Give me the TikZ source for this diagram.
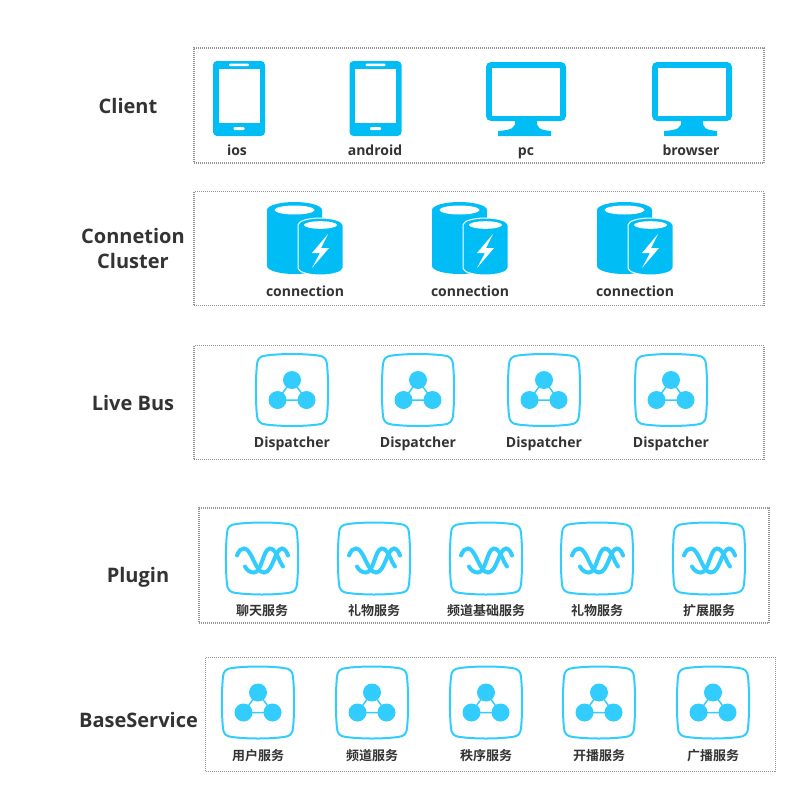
\documentclass[tikz,border=0pt]{standalone}
\usepackage{fontspec}
\setmainfont{Open Sans}
\newfontfamily\cjkfont{Noto Sans CJK SC}[BoldFont={Noto Sans CJK SC Bold}]
\usepackage{xcolor}
\usepackage{tikz}
\definecolor{devblue}{HTML}{00BEF5}
\definecolor{hubblue}{HTML}{33CCFF}
\definecolor{dotgray}{HTML}{959595}
\definecolor{inkgray}{HTML}{333333}

\tikzset{
	phone/.pic = {
		\fill[devblue,rounded corners=4] (-26,-37.5) rectangle (26,37.5);
		\fill[white] (-20.5,-29.5) rectangle (20.5,24.5);
		\fill[white,rounded corners=1] (-10,-35) rectangle (10,-32.5);
		\fill[white,rounded corners=1] (-5.5,28.5) rectangle (5.5,31.5);
	},
	monitor/.pic = {
		\fill[devblue,rounded corners=5] (-40,-37) rectangle (40,22);
		\fill[white] (-34,-31) rectangle (34,17);
		\fill[devblue] (-11,21) .. controls (-10,29) and (-14,31) .. (-28,32) -- (-28,37) -- (25,37) -- (25,32)
			.. controls (14,31) and (10,29) .. (11,21) -- cycle;
	},
	dbpair/.pic = {
		\fill[devblue] (-38,-28) arc[start angle=180,end angle=360,x radius=27.5,y radius=8]
			-- (17,28) arc[start angle=0,end angle=180,x radius=27.5,y radius=8] -- cycle;
		\fill[white] (-10.5,-28) ellipse[x radius=20,y radius=4.5];
		\filldraw[fill=devblue,draw=white,line width=1] (-7,-13) arc[start angle=180,end angle=360,x radius=22.5,y radius=7]
			-- (38,30) arc[start angle=0,end angle=180,x radius=22.5,y radius=7] -- cycle;
		\fill[white] (15.5,-13) ellipse[x radius=16.5,y radius=3.8];
		\fill[white] (23,-4) -- (7,15) -- (15,15) -- (7,30) -- (24,10) -- (16,10) -- cycle;
	},
	squircle/.pic = {
		\draw[hubblue,line width=2] (-26,-34.5) .. controls (-10,-36.5) and (10,-36.5) .. (26,-34.5)
			.. controls (32,-34) and (34.5,-31) .. (35,-26)
			.. controls (36.5,-10) and (36.5,10) .. (35,26)
			.. controls (34.5,31) and (32,34) .. (26,34.5)
			.. controls (10,36.5) and (-10,36.5) .. (-26,34.5)
			.. controls (-32,34) and (-34.5,31) .. (-35,26)
			.. controls (-36.5,10) and (-36.5,-10) .. (-35,-26)
			.. controls (-34.5,-31) and (-32,-34) .. (-26,-34.5) -- cycle;
	},
	hub/.pic = {
		\pic {squircle};
		\draw[hubblue,line width=1.5] (0,-10) -- (-14.5,10) -- (14.5,10) -- cycle;
		\fill[hubblue] (0,-10) circle[radius=9];
		\fill[hubblue] (-14.5,10) circle[radius=9];
		\fill[hubblue] (14.5,10) circle[radius=9];
	},
	wave/.pic = {
		\pic {squircle};
		\draw[hubblue,line width=4,line cap=round] (-25,-3) .. controls (-23,-8) and (-21,-10) .. (-18,-10)
			.. controls (-10,-10) and (-7,14) .. (2,14)
			.. controls (11,14) and (13,-10) .. (20,-10)
			.. controls (23,-10) and (25,-6) .. (26,-3);
		\draw[hubblue,line width=4,line cap=round] (-17,8) .. controls (-15,12) and (-12,14) .. (-8,14)
			.. controls (0,14) and (1,-10) .. (8,-10)
			.. controls (14,-10) and (17,3) .. (21,8);
	},
}

\begin{document}
\begin{tikzpicture}[x=1pt,y=-1pt]
	\tikzset{tierbox/.style = {draw=dotgray,dash pattern=on 1pt off 1pt,line width=1.5,minimum width=570,inner sep=0}}
	\tikzset{tiertext/.style = {font=\fontsize{20}{25}\selectfont\bfseries,text=inkgray,align=center}}
	\tikzset{itemtext/.style = {font=\fontsize{14}{16}\selectfont\bfseries,text=inkgray,anchor=base}}
	\tikzset{cjktext/.style = {font=\fontsize{13}{15}\selectfont\cjkfont\bfseries,text=inkgray}}

	\useasboundingbox (0,0) rectangle (807,804);

	% tiers
	\node[tierbox,minimum height=115] (clientbox) at (479,105.5) {};
	\node[tierbox,minimum height=114] (connbox) at (479,248.5) {};
	\node[tierbox,minimum height=114] (busbox) at (479,402.5) {};
	\node[tierbox,minimum height=115] (pluginbox) at (484,565.5) {};
	\node[tierbox,minimum height=114] (basebox) at (490.5,714.5) {};

	\node[tiertext] (clienttext) at (128,106) {Client};
	\node[tiertext] (conntext) at (133,248.5) {Connetion\\Cluster};
	\node[tiertext] (bustext) at (133,403) {Live Bus};
	\node[tiertext] (plugintext) at (138,577.5) {Plugin};
	\node[tiertext] (basetext) at (138.5,720) {BaseService};

	% client
	\pic at (239,98.5) {phone};
	\pic at (375.5,98.5) {phone};
	\pic at (526,99) {monitor};
	\pic at (692,99) {monitor};
	\node[itemtext] (ios) at (237,155.5) {ios};
	\node[itemtext] (android) at (375,155.5) {android};
	\node[itemtext] (pc) at (526,155.5) {pc};
	\node[itemtext] (browser) at (691,155.5) {browser};

	% connection
	\pic at (305,238) {dbpair};
	\pic at (470,238) {dbpair};
	\pic at (635,238) {dbpair};
	\node[itemtext] (conna) at (305,296.5) {connection};
	\node[itemtext] (connb) at (470,296.5) {connection};
	\node[itemtext] (connc) at (635,296.5) {connection};

	% bus
	\pic at (292,390) {hub};
	\pic at (418,390) {hub};
	\pic at (544,390) {hub};
	\pic at (671,390) {hub};
	\node[itemtext] (dispa) at (292,447) {Dispatcher};
	\node[itemtext] (dispb) at (418,447) {Dispatcher};
	\node[itemtext] (dispc) at (544,447) {Dispatcher};
	\node[itemtext] (dispd) at (671,447) {Dispatcher};

	% plugin
	\pic at (262,558.5) {wave};
	\pic at (374,558.5) {wave};
	\pic at (486,558.5) {wave};
	\pic at (597,558.5) {wave};
	\pic at (709,558.5) {wave};
	\node[cjktext] (chat) at (262,611) {聊天服务};
	\node[cjktext] (gifta) at (374,611) {礼物服务};
	\node[cjktext] (channelbase) at (486,611) {频道基础服务};
	\node[cjktext] (giftb) at (597,611) {礼物服务};
	\node[cjktext] (extend) at (709,611) {扩展服务};

	% base service
	\pic at (258,702.5) {hub};
	\pic at (372,702.5) {hub};
	\pic at (486,702.5) {hub};
	\pic at (599,702.5) {hub};
	\pic at (713,702.5) {hub};
	\node[cjktext] (user) at (258,756) {用户服务};
	\node[cjktext] (channel) at (372,756) {频道服务};
	\node[cjktext] (order) at (486,756) {秩序服务};
	\node[cjktext] (live) at (599,756) {开播服务};
	\node[cjktext] (cast) at (713,756) {广播服务};
\end{tikzpicture}
\end{document}
